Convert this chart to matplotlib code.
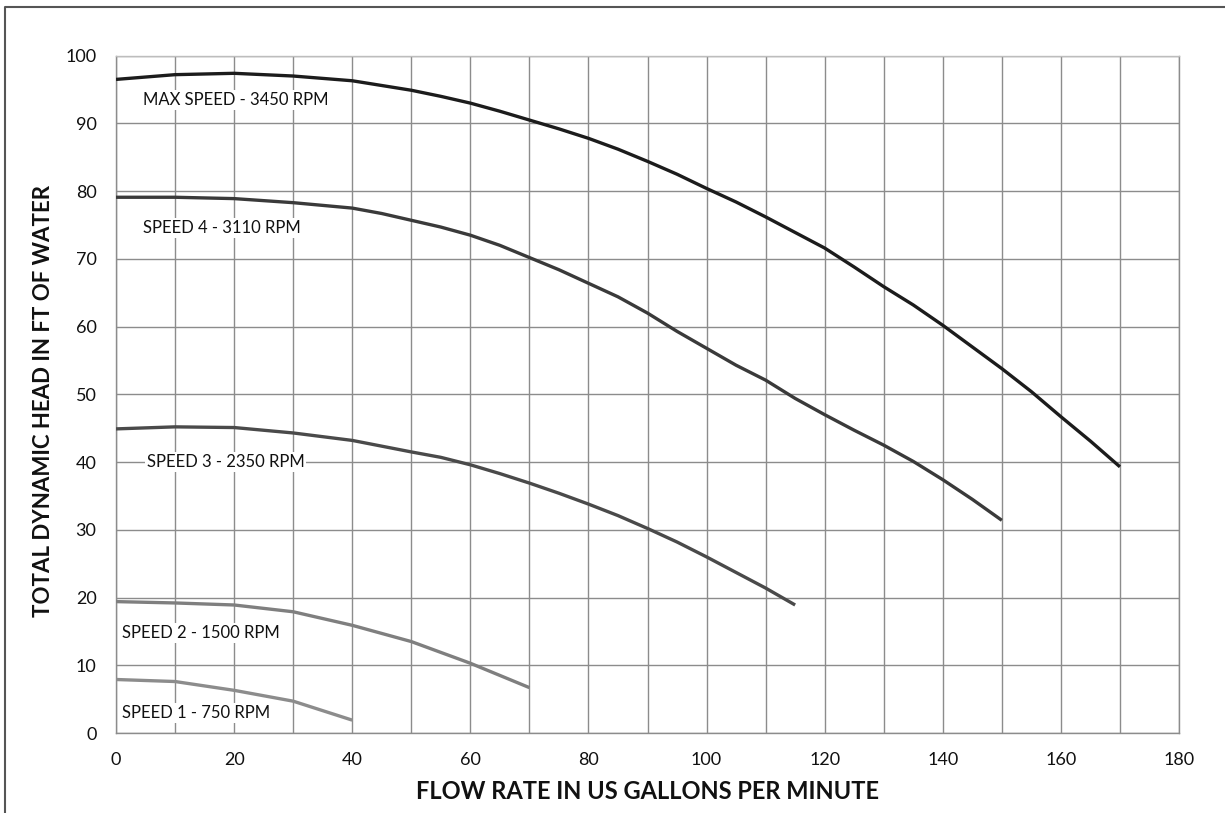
import matplotlib
matplotlib.use("Agg")
import matplotlib.pyplot as plt
from matplotlib.lines import Line2D

plt.rcParams['font.family'] = ['Lato', 'DejaVu Sans']

# Data
flow_max = [0, 10, 20, 30, 40, 50, 55, 60, 65, 70, 75, 80, 85, 90, 95, 100, 105, 110,
            120, 125, 130, 135, 140, 145, 150, 155, 160, 165, 170]
head_max = [96.5, 97.2, 97.4, 97.0, 96.3, 94.9, 94.0, 93.0, 91.8, 90.5, 89.2, 87.8, 86.2,
            84.4, 82.5, 80.4, 78.4, 76.2, 71.6, 68.8, 65.9, 63.2, 60.2, 57.0, 53.8, 50.4,
            46.7, 43.1, 39.3]

flow_s4 = [0, 10, 20, 30, 40, 45, 50, 55, 60, 65, 70, 75, 80, 85, 90, 95, 100, 105, 110,
           115, 120, 125, 130, 135, 140, 145, 150]
head_s4 = [79.1, 79.1, 78.9, 78.3, 77.5, 76.7, 75.7, 74.7, 73.5, 72.0, 70.2, 68.4, 66.4,
           64.4, 62.0, 59.3, 56.8, 54.3, 52.1, 49.4, 47.0, 44.7, 42.5, 40.1, 37.4, 34.5, 31.4]

flow_s3 = [0, 10, 20, 30, 40, 50, 55, 60, 65, 70, 75, 80, 85, 90, 95, 100, 105, 110, 115]
head_s3 = [44.9, 45.2, 45.1, 44.3, 43.2, 41.5, 40.7, 39.6, 38.3, 36.9, 35.4, 33.8, 32.1,
           30.2, 28.2, 26.0, 23.7, 21.4, 18.9]

flow_s2 = [0, 10, 20, 30, 40, 50, 60, 70]
head_s2 = [19.4, 19.2, 18.9, 17.9, 15.9, 13.5, 10.3, 6.7]

flow_s1 = [0, 10, 20, 30, 40]
head_s1 = [7.9, 7.6, 6.3, 4.7, 1.9]

series_labels = ["MAX SPEED - 3450 RPM", "SPEED 4 - 3110 RPM", "SPEED 3 - 2350 RPM",
                 "SPEED 2 - 1500 RPM", "SPEED 1 - 750 RPM"]
label_pos = [(4.6, 93.5), (4.6, 74.6), (5.2, 40.0), (1.0, 14.8), (1.0, 3.0)]
series_colors = ["#1c1c1c", "#3a3a3a", "#4a4a4a", "#7f7f7f", "#8c8c8c"]

x_ticks = [0, 20, 40, 60, 80, 100, 120, 140, 160, 180]
y_ticks = [0, 10, 20, 30, 40, 50, 60, 70, 80, 90, 100]

fig = plt.figure(figsize=(12.25, 8.13), dpi=100)
ax = fig.add_axes([116/1225, 1 - 733/813, (1179-116)/1225, (733-55.7)/813])

ax.set_xlim(0, 180)
ax.set_ylim(0, 100)
ax.set_xticks(x_ticks)
ax.set_xticks(list(range(0, 181, 10)), minor=True)
ax.set_yticks(y_ticks)
ax.grid(True, which='both', color='#8c8c8c', linewidth=1.0)
ax.set_axisbelow(True)
ax.tick_params(which='both', length=0)
ax.tick_params(axis='x', pad=14, labelsize=13, colors='#111111')
ax.tick_params(axis='y', pad=14, labelsize=13, colors='#111111')
for name, sp in ax.spines.items():
    sp.set_color('#8c8c8c')
    sp.set_linewidth(1.0)
ax.spines['top'].set_color('#bdbdbd')

series = [(flow_max, head_max), (flow_s4, head_s4), (flow_s3, head_s3),
          (flow_s2, head_s2), (flow_s1, head_s1)]
for (fx, fy), col in zip(series, series_colors):
    ax.plot(fx, fy, color=col, linewidth=2.4, solid_capstyle='butt',
            solid_joinstyle='round', zorder=3)

for lab, (lx, ly) in zip(series_labels, label_pos):
    ax.text(lx, ly, lab, fontsize=12, color='#111111', va='center', ha='left',
            bbox=dict(facecolor='white', edgecolor='none', pad=1.5), zorder=4)

ax.set_xlabel("FLOW RATE IN US GALLONS PER MINUTE", fontsize=17, fontweight='bold',
              color='#111111', labelpad=8)
ax.set_ylabel("TOTAL DYNAMIC HEAD IN FT OF WATER", fontsize=16, fontweight='bold',
              color='#111111')
ax.yaxis.set_label_coords(-0.058, 0.49)

# outer frame (left and top edges visible)
fx0 = 5/1225
fy0 = 1 - 7/813
fig.add_artist(Line2D([fx0, fx0, 1.0], [0.0, fy0, fy0], transform=fig.transFigure,
                      color='#555555', linewidth=1.5))

fig.savefig("out.png", dpi=100)
